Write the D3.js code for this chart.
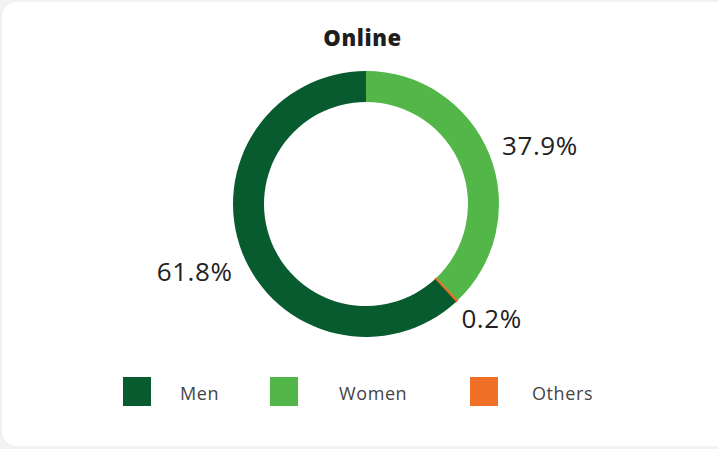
<!DOCTYPE html>
<html>
<head>
<meta charset="utf-8">
<script src="https://cdn.jsdelivr.net/npm/d3@7"></script>
<style>
  html, body { margin: 0; padding: 0; background: #f2f2f2; }
  svg { display: block; }
</style>
</head>
<body>
<svg id="chart" width="718" height="449"></svg>
<script>
const categories = ["Men", "Women", "Others"];
const values = [61.8, 37.9, 0.2];
const labels = ["61.8%", "37.9%", "0.2%"];
const colors = ["#085b2e", "#52b748", "#ef6f26"];
const drawOrder = ["Women", "Others", "Men"];
const title = "Online";

const W = 718, H = 449;
const svg = d3.select("#chart");
const font = "'Open Sans', 'Noto Sans', sans-serif";

// card
svg.append("rect")
  .attr("x", 1).attr("y", 1).attr("width", W + 30).attr("height", 446)
  .attr("rx", 16).attr("ry", 16)
  .attr("fill", "#ffffff").attr("stroke", "#ececec").attr("stroke-width", 1);

svg.append("text")
  .attr("x", 362.5).attr("y", 45.5)
  .attr("text-anchor", "middle")
  .attr("font-family", font).attr("font-weight", 800).attr("font-size", 22)
  .attr("letter-spacing", 0.6)
  .attr("fill", "#1e1e1e")
  .text(title);

const cx = 366, cy = 204, rOuter = 133, rInner = 102;
const data = categories.map((c, i) => ({ cat: c, value: values[i], label: labels[i], color: colors[i] }));
const ordered = drawOrder.map(c => data.find(d => d.cat === c));

const pie = d3.pie().sort(null).value(d => d.value);
const arcs = pie(ordered);
const arc = d3.arc().innerRadius(rInner).outerRadius(rOuter);
const labelArc = d3.arc().innerRadius(184).outerRadius(184);

const g = svg.append("g").attr("transform", `translate(${cx},${cy})`);
g.selectAll("path").data(arcs).join("path")
  .attr("d", arc)
  .attr("fill", d => d.data.color)
  .attr("stroke", d => d.data.color)
  .attr("stroke-width", d => d.data.value < 1 ? 1.2 : 0);

const nudge = { Men: [0, 0], Women: [3, 9], Others: [0, -20] };
g.selectAll("text.lbl").data(arcs).join("text")
  .attr("class", "lbl")
  .attr("x", d => labelArc.centroid(d)[0] + nudge[d.data.cat][0])
  .attr("y", d => labelArc.centroid(d)[1] + nudge[d.data.cat][1])
  .attr("text-anchor", "middle")
  .attr("dominant-baseline", "central")
  .attr("font-family", font).attr("font-size", 26)
  .attr("letter-spacing", 0.6)
  .attr("fill", "#222")
  .text(d => d.data.label);

// legend
const legendSquareX = [123, 270, 470];
const legendTextGap = [57, 69, 62];
const lg = svg.append("g").selectAll("g").data(data).join("g")
  .attr("transform", (d, i) => `translate(${legendSquareX[i]},377)`);
lg.append("rect").attr("width", 28).attr("height", 29).attr("fill", d => d.color);
lg.append("text")
  .attr("x", (d, i) => legendTextGap[i]).attr("y", 15.5)
  .attr("dominant-baseline", "central")
  .attr("font-family", font).attr("font-size", 18).attr("font-weight", 500)
  .attr("letter-spacing", 0.6)
  .attr("fill", "#444")
  .text(d => d.cat);
</script>
</body>
</html>
